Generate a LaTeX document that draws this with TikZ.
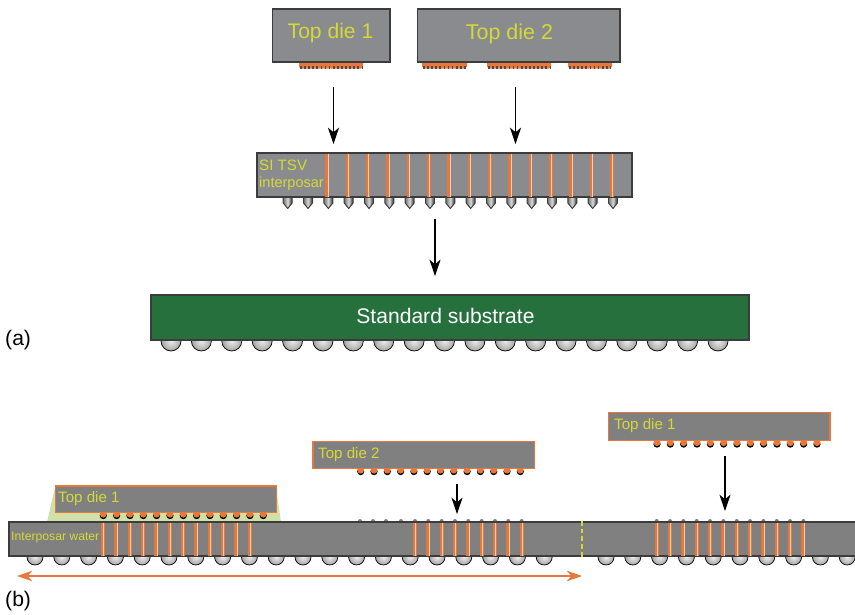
\documentclass[tikz,border=0pt]{standalone}
\usepackage{fontspec}
\setmainfont{Liberation Sans}
\usetikzlibrary{arrows.meta}
\definecolor{diegray}{HTML}{8A8B8E}
\definecolor{wafergray}{HTML}{808080}
\definecolor{edgegray}{HTML}{3C3C3C}
\definecolor{subgreen}{HTML}{25703C}
\definecolor{labelyellow}{HTML}{D4D936}
\definecolor{viaorange}{HTML}{E8773C}
\definecolor{viapale}{HTML}{F8CDB2}
\definecolor{fillgreen}{HTML}{CFE0A8}
\pgfdeclareradialshading{bumpshade}{\pgfpointorigin}{color(0bp)=(gray!15); color(18bp)=(gray!55); color(32bp)=(gray); color(42bp)=(black!65); color(50bp)=(black)}
\tikzset{
  diebox/.style={draw=edgegray,fill=diegray,line width=1pt},
  odie/.style={draw=viaorange,fill=wafergray,line width=1pt},
  dielabel/.style={text=labelyellow,inner sep=0pt},
  downarrow/.style={-{Stealth[length=14pt,width=9.5pt,inset=4pt]},line width=0.9pt},
  spanarrow/.style={{Stealth[length=13pt,width=9pt,inset=4pt]}-{Stealth[length=13pt,width=9pt,inset=4pt]},draw=viaorange,line width=1pt},
  ball/.style={draw=black,line width=0.6pt,shading=bumpshade},
}
\begin{document}
\begin{tikzpicture}[x=0.03cm,y=-0.03cm]
        \useasboundingbox (0,0) rectangle (855,615);
        % (a) top dies
        \foreach \xa/\xb in {299/363,422/467,487/551,568/612} {
            \fill[viaorange,rounded corners=1.5pt] (\xa,60) rectangle (\xb,68.5);
            \draw[black!70,line width=2.2pt,dash pattern=on 1.5pt off 2pt] (\xa+1,67.5) -- (\xb-1,67.5);
        }
        \draw[diebox] (272.5,9) rectangle (390,62);
        \draw[diebox] (417.5,9) rectangle (620,62);
        \node[dielabel,font=\fontsize{18}{20}\selectfont] (dieAone) at (330.5,33) {Top die 1};
        \node[dielabel,font=\fontsize{18.3}{20}\selectfont] (dieAtwo) at (509.5,34) {Top die 2};
        \coordinate (armAstart) at (333.5,87);
        \coordinate (armAend) at (333.5,144);
        \coordinate (armBstart) at (515.5,87);
        \coordinate (armBend) at (515.5,144);
        \draw[downarrow] (armAstart) -- (armAend);
        \draw[downarrow] (armBstart) -- (armBend);
        % (a) interposer
        \foreach \i in {0,...,16} {
            \pgfmathsetmacro{\px}{287.7+20.33*\i}
            \draw[edgegray,line width=0.8pt,left color=black!55,right color=black!85,middle color=gray!30]
                (\px-4.5,195) -- (\px+4.5,195) -- (\px+4.5,203) -- (\px,208.5) -- (\px-4.5,203) -- cycle;
        }
        \draw[diebox] (257,153) rectangle (632,197);
        \foreach \i in {0,...,14} {
            \pgfmathsetmacro{\vx}{327.3+20.33*\i}
            \draw[viaorange,line width=3.2pt] (\vx,153.5) -- (\vx,196.5);
            \draw[viapale,line width=0.8pt] (\vx+0.9,153.5) -- (\vx+0.9,196.5);
        }
        \node[dielabel,anchor=west,font=\fontsize{12.9}{15}\selectfont] (tsvone) at (259,165.5) {SI TSV};
        \node[dielabel,anchor=west,font=\fontsize{12.4}{15}\selectfont] (tsvtwo) at (259,184) {interposar};
        \coordinate (armCstart) at (435,219);
        \coordinate (armCend) at (435,276);
        \draw[downarrow] (armCstart) -- (armCend);
        % (a) substrate
        \foreach \i in {0,...,18} {
            \shadedraw[ball] ({171+30.39*\i},341) circle[radius=10];
        }
        \draw[draw=edgegray,fill=subgreen,line width=1pt] (151,295) rectangle (749,340);
        \node[text=white,inner sep=0pt,font=\fontsize{18}{20}\selectfont] (subname) at (445.5,316) {Standard substrate};
        \node[anchor=west,inner sep=0pt,font=\fontsize{18}{20}\selectfont] (parta) at (5,340) {(a)};
        % (b) underfill and bumps
        \fill[fillgreen] (47,522) -- (55,488) -- (276,488) -- (281,522) -- cycle;
        \foreach \i in {0,...,12} {
            \pgfmathsetmacro{\ba}{103.3+13.33*\i}
            \pgfmathsetmacro{\bb}{360.7+13.3*\i}
            \pgfmathsetmacro{\bc}{657+13.33*\i}
            \foreach \bx/\by in {\ba/513,\bb/469,\bc/441.5} {
                \fill[black] (\bx,\by+2.6) circle[radius=3.6];
                \fill[viaorange] (\bx,\by+1.2) circle[radius=3.4];
            }
        }
        \foreach \bx in {360,373,386,401,656.7,670,683.4,696.7,710,723.4,736.8,750,763.4,776.8,790,803.4,415,428.3,441.7,455,468.3,481.7,495,508.3,521.7} {
            \fill[gray] (\bx,521) circle[radius=2];
        }
        % (b) wafer
        \foreach \i in {0,...,19} {
            \shadedraw[ball] ({35+26.8*\i},557) circle[radius=8];
        }
        \foreach \i in {0,...,9} {
            \shadedraw[ball] ({606+26.8*\i},557) circle[radius=8];
        }
        \fill[wafergray] (9,522) rectangle (855,556);
        \draw[edgegray,line width=1pt] (855,522) -- (9,522) -- (9,556) -- (855,556);
        \foreach \vs/\vn in {103/11,415/8,656.7/11} {
            \foreach \i in {0,...,\vn} {
                \pgfmathsetmacro{\vx}{\vs+13.33*\i}
                \draw[viaorange,line width=3.2pt] (\vx,522.5) -- (\vx,555.5);
                \draw[viapale,line width=0.8pt] (\vx+0.9,522.5) -- (\vx+0.9,555.5);
            }
        }
        \draw[labelyellow,line width=1.6pt,dash pattern=on 4pt off 2.6pt] (582,521) -- (582,558);
        \node[dielabel,anchor=west,font=\fontsize{10.4}{12}\selectfont] (wafername) at (11,538) {Interposar water};
        % (b) top dies
        \draw[odie] (55.5,486) rectangle (276.5,512.5);
        \draw[odie] (313,441.5) rectangle (534.5,468.5);
        \draw[odie] (608.5,412.5) rectangle (830,440.5);
        \node[dielabel,anchor=west,font=\fontsize{12.9}{15}\selectfont] (dieBone) at (58,498.5) {Top die 1};
        \node[dielabel,anchor=west,font=\fontsize{12.9}{15}\selectfont] (dieBtwo) at (318,455) {Top die 2};
        \node[dielabel,anchor=west,font=\fontsize{12.9}{15}\selectfont] (dieBthree) at (614,426) {Top die 1};
        \coordinate (armDstart) at (457,484);
        \coordinate (armDend) at (457,514);
        \coordinate (armEstart) at (725,456);
        \coordinate (armEend) at (725,511);
        \draw[downarrow] (armDstart) -- (armDend);
        \draw[downarrow] (armEstart) -- (armEend);
        \coordinate (spanleft) at (17,576);
        \coordinate (spanright) at (582,576);
        \draw[spanarrow] (spanleft) -- (spanright);
        \node[anchor=west,inner sep=0pt,font=\fontsize{18}{20}\selectfont] (partb) at (5,601) {(b)};
    \end{tikzpicture}
\end{document}
